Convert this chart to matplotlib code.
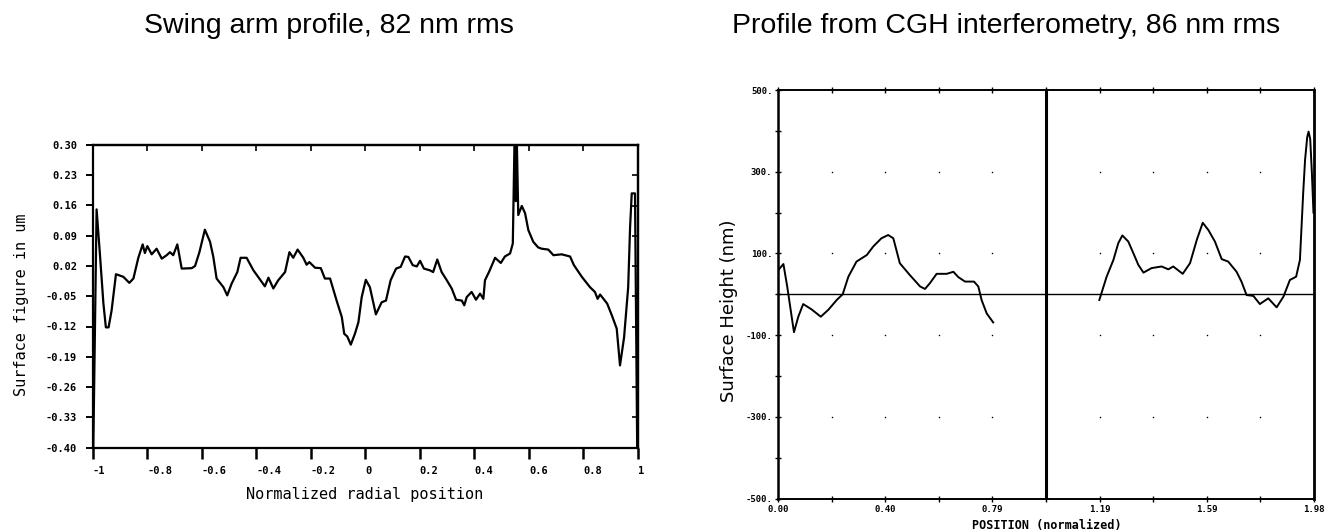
import numpy as np
import matplotlib
matplotlib.use("Agg")
import matplotlib.pyplot as plt

# ---------------- data ----------------
# Left: swing arm profile (normalized radial position, surface figure in um)
swing_pos = [-0.997, -0.985, -0.973, -0.960, -0.951, -0.941, -0.930, -0.914, -0.887, -0.865,
             -0.850, -0.832, -0.816, -0.808, -0.799, -0.783, -0.765, -0.746, -0.728, -0.716,
             -0.704, -0.689, -0.673, -0.636, -0.624, -0.608, -0.588, -0.569, -0.557, -0.545,
             -0.520, -0.506, -0.490, -0.469, -0.457, -0.435, -0.410, -0.368, -0.355, -0.337,
             -0.319, -0.294, -0.278, -0.264, -0.248, -0.227, -0.215, -0.205, -0.184, -0.163,
             -0.148, -0.129, -0.105, -0.086, -0.077, -0.066, -0.053, -0.038, -0.025, -0.013,
             0.002, 0.017, 0.039, 0.060, 0.076, 0.093, 0.113, 0.130, 0.146, 0.158,
             0.174, 0.189, 0.201, 0.215, 0.237, 0.249, 0.264, 0.280, 0.299, 0.317,
             0.333, 0.354, 0.363, 0.372, 0.390, 0.406, 0.421, 0.433, 0.439, 0.455,
             0.476, 0.497, 0.512, 0.531, 0.541, 0.547, 0.552, 0.556, 0.561, 0.574,
             0.586, 0.598, 0.616, 0.634, 0.647, 0.671, 0.690, 0.720, 0.751, 0.765,
             0.794, 0.824, 0.842, 0.852, 0.861, 0.887, 0.904, 0.922, 0.934, 0.949,
             0.964, 0.971, 0.977, 0.989, 0.997]
swing_um = [-0.400, 0.151, 0.049, -0.067, -0.122, -0.122, -0.083, 0.001, -0.005, -0.019,
            -0.009, 0.039, 0.070, 0.050, 0.066, 0.047, 0.060, 0.037, 0.045, 0.052,
            0.045, 0.070, 0.014, 0.015, 0.020, 0.052, 0.104, 0.076, 0.041, -0.009,
            -0.029, -0.048, -0.021, 0.006, 0.039, 0.039, 0.010, -0.027, -0.007, -0.032,
            -0.013, 0.006, 0.052, 0.039, 0.058, 0.039, 0.023, 0.029, 0.016, 0.015,
            -0.009, -0.009, -0.060, -0.098, -0.137, -0.143, -0.162, -0.137, -0.110, -0.052,
            -0.012, -0.029, -0.092, -0.064, -0.060, -0.013, 0.014, 0.018, 0.042, 0.041,
            0.022, 0.019, 0.032, 0.014, 0.010, 0.006, 0.035, 0.006, -0.013, -0.032,
            -0.058, -0.060, -0.071, -0.052, -0.040, -0.058, -0.044, -0.056, -0.013, 0.008,
            0.039, 0.027, 0.042, 0.049, 0.072, 0.300, 0.170, 0.300, 0.138, 0.159,
            0.142, 0.103, 0.076, 0.063, 0.060, 0.058, 0.045, 0.047, 0.042, 0.022,
            -0.005, -0.029, -0.040, -0.056, -0.046, -0.067, -0.094, -0.125, -0.210, -0.145,
            -0.029, 0.110, 0.188, 0.188, -0.400]

swing_xticks = [-1, -0.8, -0.6, -0.4, -0.2, 0, 0.2, 0.4, 0.6, 0.8, 1]
swing_xlabels = ["-1", "-0.8", "-0.6", "-0.4", "-0.2", "0", "0.2", "0.4", "0.6", "0.8", "1"]
swing_yticks = [0.30, 0.23, 0.16, 0.09, 0.02, -0.05, -0.12, -0.19, -0.26, -0.33, -0.40]
swing_ylabels = ["0.30", "0.23", "0.16", "0.09", "0.02", "-0.05", "-0.12", "-0.19",
                 "-0.26", "-0.33", "-0.40"]

# Right: CGH interferometry profile (normalized position, surface height in nm)
cgh1_pos = [0.001, 0.020, 0.034, 0.059, 0.075, 0.093, 0.124, 0.158, 0.186, 0.217,
            0.239, 0.260, 0.290, 0.328, 0.352, 0.382, 0.407, 0.426, 0.450, 0.487,
            0.525, 0.543, 0.561, 0.586, 0.623, 0.648, 0.666, 0.691, 0.724, 0.740,
            0.752, 0.771, 0.795]
cgh1_nm = [59, 74, 19, -93, -55, -24, -37, -55, -38, -14,
           0, 43, 80, 96, 117, 137, 145, 137, 76, 47,
           19, 13, 27, 50, 50, 55, 42, 31, 31, 19,
           -14, -47, -69]
cgh2_pos = [1.187, 1.214, 1.239, 1.257, 1.272, 1.294, 1.313, 1.331, 1.350, 1.380,
            1.417, 1.442, 1.460, 1.495, 1.522, 1.547, 1.569, 1.590, 1.614, 1.639,
            1.663, 1.694, 1.712, 1.731, 1.756, 1.780, 1.811, 1.842, 1.867, 1.891,
            1.914, 1.928, 1.940, 1.947, 1.955, 1.960, 1.966, 1.972, 1.978]
cgh2_nm = [-14, 43, 84, 125, 144, 129, 100, 72, 53, 64,
           68, 61, 68, 50, 76, 133, 175, 157, 129, 86,
           80, 55, 31, -2, -4, -24, -10, -32, -6, 35,
           43, 84, 247, 329, 385, 398, 380, 300, 200]

cgh_xticks = [0.0, 0.198, 0.396, 0.594, 0.792, 0.99, 1.188, 1.386, 1.584, 1.782, 1.98]
cgh_xlabels = ["0.00", "", "0.40", "", "0.79", "", "1.19", "", "1.59", "", "1.98"]
cgh_yticks = [500, 300, 100, -100, -300, -500]
cgh_ylabels = ["500.", "300.", "100.", "-100.", "-300.", "-500."]
cgh_yminor = [400, 200, 0, -200, -400]
cgh_dot_x = [0.198, 0.396, 0.594, 0.792, 1.188, 1.386, 1.584, 1.782]
cgh_dot_y = [300, 100, -100, -300]
cgh_center = 0.99

# ---------------- figure ----------------
W, H = 1331, 531
fig = plt.figure(figsize=(W / 100, H / 100), dpi=100)

def fx(px):
    return px / W

def fy(py):
    return 1 - py / H

mono = "DejaVu Sans Mono"

# ----- left plot -----
ax1 = fig.add_axes([fx(92.5), fy(447.5), fx(638) - fx(92.5), fy(145) - fy(447.5)])
ax1.plot(swing_pos, swing_um, color="black", lw=1.6, clip_on=True)
ax1.set_xlim(-1, 1)
ax1.set_ylim(-0.40, 0.30)
for s in ax1.spines.values():
    s.set_linewidth(1.6)
ax1.set_xticks(swing_xticks)
ax1.set_xticklabels(swing_xlabels, fontfamily=mono, fontweight="bold", fontsize=7.5)
for lbl in ax1.get_xticklabels():
    lbl.set_horizontalalignment("left")
ax1.set_yticks(swing_yticks)
ax1.set_yticklabels(swing_ylabels, fontfamily=mono, fontweight="bold", fontsize=7.5)
ax1.tick_params(axis="x", direction="out", length=8, width=1.8, pad=5)
ax1.tick_params(axis="y", direction="out", length=5, width=1.4, pad=6)
top1 = ax1.secondary_xaxis("top")
top1.set_xticks(swing_xticks)
top1.tick_params(direction="in", length=4, width=1.2, labeltop=False)
top1.spines["top"].set_linewidth(1.6)
right1 = ax1.secondary_yaxis("right")
right1.set_yticks(swing_yticks)
right1.tick_params(direction="in", length=4, width=1.2, labelright=False)
right1.spines["right"].set_linewidth(1.6)

fig.text(fx(365), fy(495), "Normalized radial position", fontfamily=mono,
         fontsize=11, ha="center", va="center")
fig.text(fx(22), fy(305), "Surface figure in um", fontfamily=mono,
         fontsize=11, ha="center", va="center", rotation=90)

# ----- right plot -----
ax2 = fig.add_axes([fx(778), fy(498.5), fx(1314) - fx(778), fy(90) - fy(498.5)])
ax2.set_xlim(0, 1.98)
ax2.set_ylim(-500, 500)
ax2.plot(cgh1_pos, cgh1_nm, color="black", lw=1.4)
ax2.plot(cgh2_pos, cgh2_nm, color="black", lw=1.4)
ax2.axhline(0, color="black", lw=1.0)
ax2.axvline(cgh_center, color="black", lw=2.2)
gx, gy = np.meshgrid(cgh_dot_x, cgh_dot_y)
ax2.scatter(gx.ravel(), gy.ravel(), s=1.2, color="black", linewidths=0)
for s in ax2.spines.values():
    s.set_linewidth(1.4)
ax2.spines["left"].set_linewidth(1.8)
ax2.spines["right"].set_linewidth(2.0)
ax2.set_xticks(cgh_xticks)
ax2.set_xticklabels(cgh_xlabels, fontfamily=mono, fontweight="bold", fontsize=6.5)
ax2.set_yticks(cgh_yticks)
ax2.set_yticklabels(cgh_ylabels, fontfamily=mono, fontweight="bold", fontsize=6.5)
ax2.set_yticks(cgh_yminor, minor=True)
ax2.tick_params(axis="both", which="both", direction="inout", length=4, width=1.0,
                top=True, right=False, pad=3)
ax2.tick_params(axis="y", pad=2)

fig.text(fx(1047), fy(525), "POSITION (normalized)", fontfamily=mono,
         fontweight="bold", fontsize=8.5, ha="center", va="center")
fig.text(fx(729), fy(311), "Surface Height (nm)", fontfamily="DejaVu Sans",
         fontsize=13, ha="center", va="center", rotation=90)

# ----- titles -----
title_font = "Liberation Sans"
fig.text(fx(329), fy(26), "Swing arm profile, 82 nm rms", fontfamily=title_font,
         fontsize=20.5, ha="center", va="center")
fig.text(fx(1006), fy(26), "Profile from CGH interferometry, 86 nm rms",
         fontfamily=title_font, fontsize=20.5, ha="center", va="center")

fig.savefig("out.png", dpi=100, facecolor="white")
